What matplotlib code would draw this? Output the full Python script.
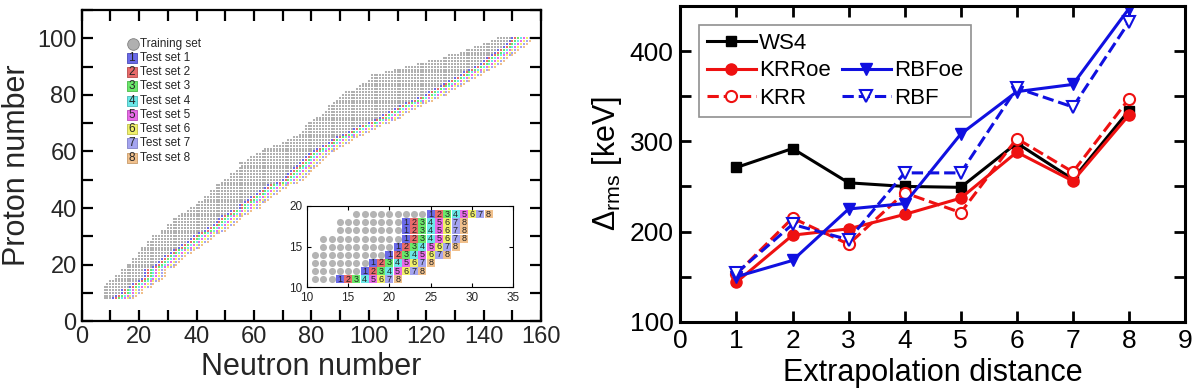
import numpy as np
import matplotlib.pyplot as plt
from matplotlib.lines import Line2D

plt.rcParams['font.family'] = ['Liberation Sans', 'DejaVu Sans']
plt.rcParams['mathtext.fontset'] = 'custom'
plt.rcParams['mathtext.rm'] = 'Liberation Sans'
plt.rcParams['mathtext.it'] = 'Liberation Sans:italic'

# nuclear chart: for each proton number, first training N and last (most neutron-rich) N
Z = list(range(8, 101))
n_first = [8, 8, 8, 8, 8, 9, 10, 12, 12, 14, 14, 16, 16, 18, 18, 20, 20, 21, 21, 23,
           23, 25, 25, 28, 28, 30, 30, 32, 32, 34, 35, 37, 38, 40, 41, 43, 43, 45, 45, 47,
           47, 49, 50, 52, 52, 54, 55, 56, 55, 58, 59, 61, 63, 64, 67, 70, 72, 74, 76, 77,
           78, 78, 79, 81, 82, 84, 85, 86, 86, 88, 89, 90, 91, 92, 96, 97, 98, 100, 101, 101,
           106, 109, 113, 117, 121, 126, 128, 132, 134, 137, 140, 143, 145]
n_last = [18, 19, 21, 21, 24, 25, 27, 28, 29, 29, 29, 32, 33, 34, 35, 36, 38, 39, 41, 42,
          44, 45, 46, 48, 50, 51, 53, 54, 55, 56, 58, 59, 62, 62, 64, 65, 66, 68, 69, 71,
          72, 75, 77, 78, 79, 80, 81, 82, 83, 84, 85, 86, 88, 89, 91, 93, 94, 96, 98, 100,
          102, 104, 107, 109, 111, 112, 114, 116, 118, 120, 122, 124, 127, 128, 130, 132, 133, 135, 137, 139,
          140, 142, 144, 146, 147, 148, 150, 151, 152, 154, 155, 156, 157]
n_test = 8
test_colors = ['#6a6ae8', '#e86a6a', '#6ae86a', '#6ae8e8', '#e86ae8', '#f0f06a', '#a4a4f0', '#f0c08c']
test_edges = ['#4a4ab8', '#b84a4a', '#4ab84a', '#4ab8b8', '#b84ab8', '#c0c04a', '#8080c8', '#c89a6a']

# extrapolation results
dist = [1, 2, 3, 4, 5, 6, 7, 8]
ws4 = [271, 292, 254, 250, 249, 298, 258, 334]
krroe = [144, 196, 203, 219, 237, 288, 256, 329]
krr = [153, 215, 186, 243, 221, 303, 266, 347]
rbfoe = [150, 168, 225, 231, 308, 355, 363, 447]
rbf = [154, 208, 191, 265, 265, 359, 338, 432]

train_n, train_z = [], []
test_n = [[] for _ in range(n_test)]
test_z = [[] for _ in range(n_test)]
for z, a, b in zip(Z, n_first, n_last):
    for n in range(a, b - n_test + 1):
        train_n.append(n)
        train_z.append(z)
    for k in range(n_test):
        test_n[k].append(b - n_test + 1 + k)
        test_z[k].append(z)

fig = plt.figure(figsize=(12, 3.92), dpi=100)
txt = '#262626'

# ---------------- left: nuclear chart ----------------
ax = fig.add_axes([0.068, 0.181, 0.383, 0.793])
ax.scatter(train_n, train_z, s=2.0, marker='s', color='#b0b0b0', linewidths=0)
for k in range(n_test):
    ax.scatter(test_n[k], test_z[k], s=4.2, marker='s', color=test_colors[k], linewidths=0)
ax.set_xlim(0, 160)
ax.set_ylim(0, 110)
ax.set_xticks(range(0, 161, 20))
ax.set_xticks(range(0, 161, 10), minor=True)
ax.set_yticks(range(0, 101, 20))
ax.set_yticks(range(0, 111, 10), minor=True)
ax.tick_params(which='both', direction='in', top=True, right=True, labelsize=17,
               labelcolor=txt, width=1.6, length=8)
for sp in ax.spines.values():
    sp.set_linewidth(1.6)
ax.set_xlabel('Neutron number', fontsize=22, color=txt, labelpad=3)
ax.set_ylabel('Proton number', fontsize=22, color=txt, labelpad=4)

# legend drawn by hand
ax.scatter([0.111], [0.891], s=70, marker='o', color='#b0b0b0', edgecolors='#808080',
           linewidths=0.6, transform=ax.transAxes, clip_on=False)
ax.text(0.127, 0.891, 'Training set', transform=ax.transAxes, fontsize=8.5,
        va='center', ha='left', color=txt)
for k in range(n_test):
    y = 0.846 - k * 0.0457
    ax.scatter([0.109], [y], s=52, marker='s', color=test_colors[k], edgecolors=test_edges[k],
               linewidths=0.6, transform=ax.transAxes, clip_on=False)
    ax.text(0.109, y, str(k + 1), transform=ax.transAxes, fontsize=8.5, va='center',
            ha='center', color=txt)
    ax.text(0.127, y, 'Test set %d' % (k + 1), transform=ax.transAxes, fontsize=8.5,
            va='center', ha='left', color=txt)

# inset zoom of light nuclei
ins = fig.add_axes([0.2556, 0.267, 0.1722, 0.2075])
in_n = [n for n, z in zip(train_n, train_z) if 10 < n < 35 and 10 < z < 20]
in_z = [z for n, z in zip(train_n, train_z) if 10 < n < 35 and 10 < z < 20]
ins.scatter(in_n, in_z, s=26, marker='o', color='#b4b4b4', linewidths=0)
for k in range(n_test):
    sel = [(n, z) for n, z in zip(test_n[k], test_z[k]) if 10 < n < 35 and 10 < z < 20]
    ins.scatter([p[0] for p in sel], [p[1] for p in sel], s=40, marker='s',
                color=test_colors[k], linewidths=0)
    for n, z in sel:
        ins.text(n, z, str(k + 1), fontsize=6.5, ha='center', va='center', color='#222222')
ins.set_xlim(10, 35)
ins.set_ylim(10, 20)
ins.set_xticks(range(10, 36, 5))
ins.set_yticks([10, 15, 20])
ins.tick_params(direction='in', top=True, right=True, labelsize=8.5, labelcolor=txt,
                length=3, width=0.8, pad=3)
for sp in ins.spines.values():
    sp.set_linewidth(0.8)

# ---------------- right: extrapolation ----------------
bx = fig.add_axes([0.567, 0.179, 0.4205, 0.806])
lw = 2.2
bx.plot(dist, ws4, '-s', color='black', lw=lw, ms=7, label='WS4')
bx.plot(dist, krroe, '-o', color='#ee1111', lw=lw, ms=8, label='KRRoe')
bx.plot(dist, krr, '--o', color='#ee1111', lw=lw, ms=8, mfc='white', mew=1.5, label='KRR')
bx.plot(dist, rbfoe, '-v', color='#1010e0', lw=lw, ms=9, label='RBFoe')
bx.plot(dist, rbf, '--v', color='#1010e0', lw=lw, ms=9, mfc='white', mew=1.5, label='RBF')
bx.set_xlim(0, 9)
bx.set_ylim(100, 450)
bx.set_xticks(range(0, 10))
bx.set_yticks([100, 200, 300, 400])
bx.set_yticks([150, 250, 350], minor=True)
bx.tick_params(which='both', direction='in', top=True, right=True, labelsize=19,
               length=8, width=2, pad=5)
for sp in bx.spines.values():
    sp.set_linewidth(2.2)
bx.set_xlabel('Extrapolation distance', fontsize=22, labelpad=4)
bx.set_ylabel(r'$\Delta_{\mathrm{rms}}$ [keV]', fontsize=22, labelpad=4)

h, l = bx.get_legend_handles_labels()
blank = Line2D([], [], color='none')
order = [h[0], h[1], h[2], blank, h[3], h[4]]
labels = [l[0], l[1], l[2], '', l[3], l[4]]
leg = bx.legend(order, labels, ncol=2, loc='upper left', bbox_to_anchor=(0.015, 0.975),
                fontsize=16, fancybox=False, edgecolor='#909090', framealpha=1,
                handlelength=2.2, handletextpad=0.15, columnspacing=0.5,
                labelspacing=0.3, borderpad=0.35)
leg.get_frame().set_linewidth(1.2)

fig.savefig('out.png', dpi=100)
